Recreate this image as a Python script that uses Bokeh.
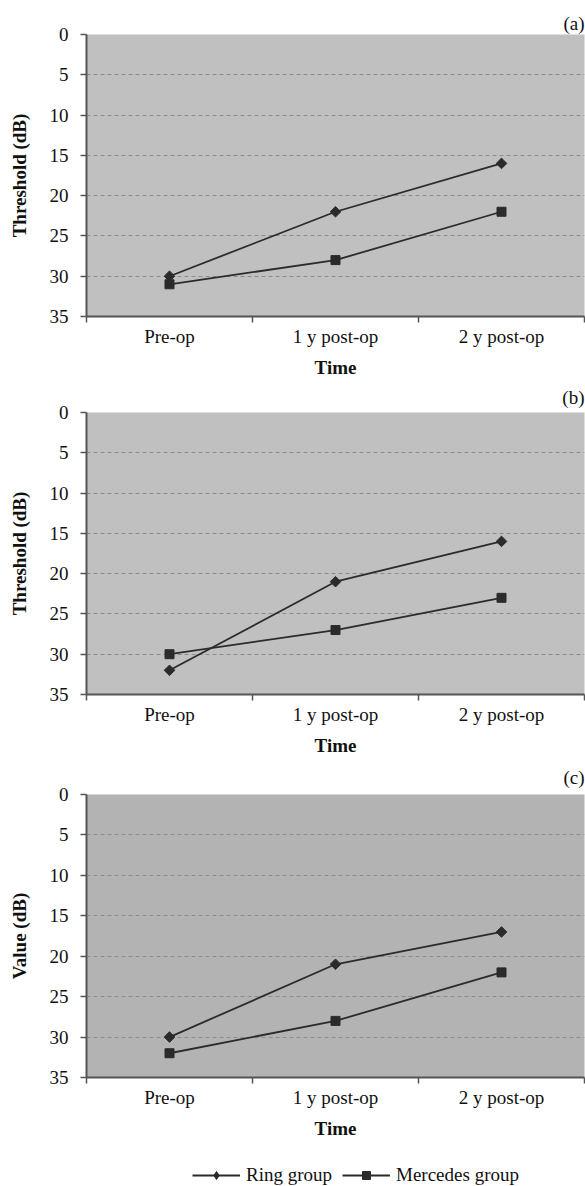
import numpy as np
from bokeh.plotting import figure
from bokeh.models import Range1d, FixedTicker, Legend, LegendItem
from bokeh.layouts import column
from bokeh.embed import file_html
from bokeh.resources import INLINE

# ---- data ----
categories = ["Pre-op", "1 y post-op", "2 y post-op"]
ring_a = [30, 22, 16]
merc_a = [31, 28, 22]
ring_b = [32, 21, 16]
merc_b = [30, 27, 23]
ring_c = [30, 21, 17]
merc_c = [32, 28, 22]
y_ticks = [0, 5, 10, 15, 20, 25, 30, 35]
panel_tags = ["(a)", "(b)", "(c)"]
y_titles = ["Threshold (dB)", "Threshold (dB)", "Value (dB)"]
x_title = "Time"
series_names = ["Ring group", "Mercedes group"]

FONT = "Liberation Serif"
FS = "19px"
INK = "#2b2b2b"
TXT = "#111111"
AXIS = "#555555"
GRID = "#8c8c8c"
W = 585
XS = [i + 0.5 for i in range(len(categories))]


def style_series(p, xs, ring, merc, legend_strip=False):
    l1 = p.line(xs, ring, line_color=INK, line_width=1.8)
    if legend_strip:
        s1 = p.scatter(xs, ring, marker="diamond", size=13,
                       fill_color=INK, line_color=INK)
    else:
        s1 = p.scatter(xs, ring, marker="square", angle=np.pi / 4, size=7.5,
                       fill_color=INK, line_color=INK)
    l2 = p.line(xs, merc, line_color=INK, line_width=1.8)
    s2 = p.scatter(xs, merc, marker="square", size=9,
                   fill_color=INK, line_color=INK)
    return l1, s1, l2, s2


def make_panel(tag, ytitle, ring, merc, bg, height, top, bottom, tag_standoff):
    n = len(categories)
    p = figure(width=W, height=height,
               x_range=Range1d(0, n), y_range=Range1d(y_ticks[-1], y_ticks[0]),
               output_backend="svg", toolbar_location=None,
               min_border_left=86, min_border_right=1,
               min_border_top=top, min_border_bottom=bottom)
    p.background_fill_color = bg
    p.border_fill_color = "white"
    p.outline_line_color = None

    p.title.text = tag
    p.title.align = "right"
    p.title.text_font = FONT
    p.title.text_font_size = FS
    p.title.text_font_style = "normal"
    p.title.text_color = TXT
    p.title.standoff = tag_standoff

    # x axis: labels at category centres, tick marks at category boundaries
    xa = p.xaxis[0]
    xa.ticker = FixedTicker(ticks=XS, minor_ticks=list(range(n + 1)))
    xa.major_label_overrides = {x: c for x, c in zip(XS, categories)}
    xa.major_tick_in = 0
    xa.major_tick_out = 0
    xa.minor_tick_in = 0
    xa.minor_tick_out = 6
    xa.minor_tick_line_color = AXIS
    xa.minor_tick_line_width = 1.5
    xa.axis_line_color = AXIS
    xa.axis_line_width = 2
    xa.major_label_text_font = FONT
    xa.major_label_text_font_size = FS
    xa.major_label_text_color = TXT
    xa.major_label_standoff = 3
    xa.axis_label = x_title
    xa.axis_label_text_font = FONT
    xa.axis_label_text_font_size = FS
    xa.axis_label_text_font_style = "bold"
    xa.axis_label_text_color = TXT
    xa.axis_label_standoff = 7

    ya = p.yaxis[0]
    ya.ticker = FixedTicker(ticks=y_ticks)
    ya.major_tick_in = 0
    ya.major_tick_out = 6
    ya.major_tick_line_color = AXIS
    ya.major_tick_line_width = 1.5
    ya.minor_tick_line_color = None
    ya.axis_line_color = AXIS
    ya.axis_line_width = 2
    ya.major_label_text_font = FONT
    ya.major_label_text_font_size = FS
    ya.major_label_text_color = TXT
    ya.major_label_standoff = 12
    ya.axis_label = ytitle
    ya.axis_label_text_font = FONT
    ya.axis_label_text_font_size = FS
    ya.axis_label_text_font_style = "bold"
    ya.axis_label_text_color = TXT
    ya.axis_label_standoff = 17

    p.xgrid.grid_line_color = None
    p.ygrid.ticker = FixedTicker(ticks=y_ticks)
    p.ygrid.grid_line_color = GRID
    p.ygrid.grid_line_dash = "4 3"
    p.ygrid.grid_line_width = 1

    style_series(p, XS, ring, merc)
    return p


pa = make_panel(panel_tags[0], y_titles[0], ring_a, merc_a, "#c0c0c0", 380, 34, 63, 1)
pb = make_panel(panel_tags[1], y_titles[1], ring_b, merc_b, "#c0c0c0", 378, 32, 63, 9)
pc = make_panel(panel_tags[2], y_titles[2], ring_c, merc_c, "#b3b3b3", 392, 36, 73, 13)

# legend strip: the series are drawn again, but fall outside this strip's
# y-range, so only the legend swatches are visible
pl = figure(width=W, height=36, x_range=Range1d(0, len(categories)),
            y_range=Range1d(-2, -1),
            x_axis_type=None, y_axis_type=None, output_backend="svg",
            toolbar_location=None, min_border=0)
pl.grid.visible = False
pl.outline_line_color = None
pl.background_fill_color = "white"
l1, s1, l2, s2 = style_series(pl, XS, ring_c, merc_c, legend_strip=True)
leg = Legend(items=[LegendItem(label=series_names[0], renderers=[l1, s1]),
                    LegendItem(label=series_names[1], renderers=[l2, s2])],
             orientation="horizontal", location=(106, 0))
leg.label_text_font = FONT
leg.label_text_font_size = FS
leg.label_text_color = TXT
leg.glyph_width = 48
leg.glyph_height = 20
leg.label_height = 20
leg.label_standoff = 6
leg.spacing = 10
leg.padding = 0
leg.margin = 0
leg.border_line_color = None
leg.background_fill_alpha = 0
pl.add_layout(leg)

layout = column(pa, pb, pc, pl, spacing=0)
open("out.html", "w").write(file_html(layout, INLINE))
